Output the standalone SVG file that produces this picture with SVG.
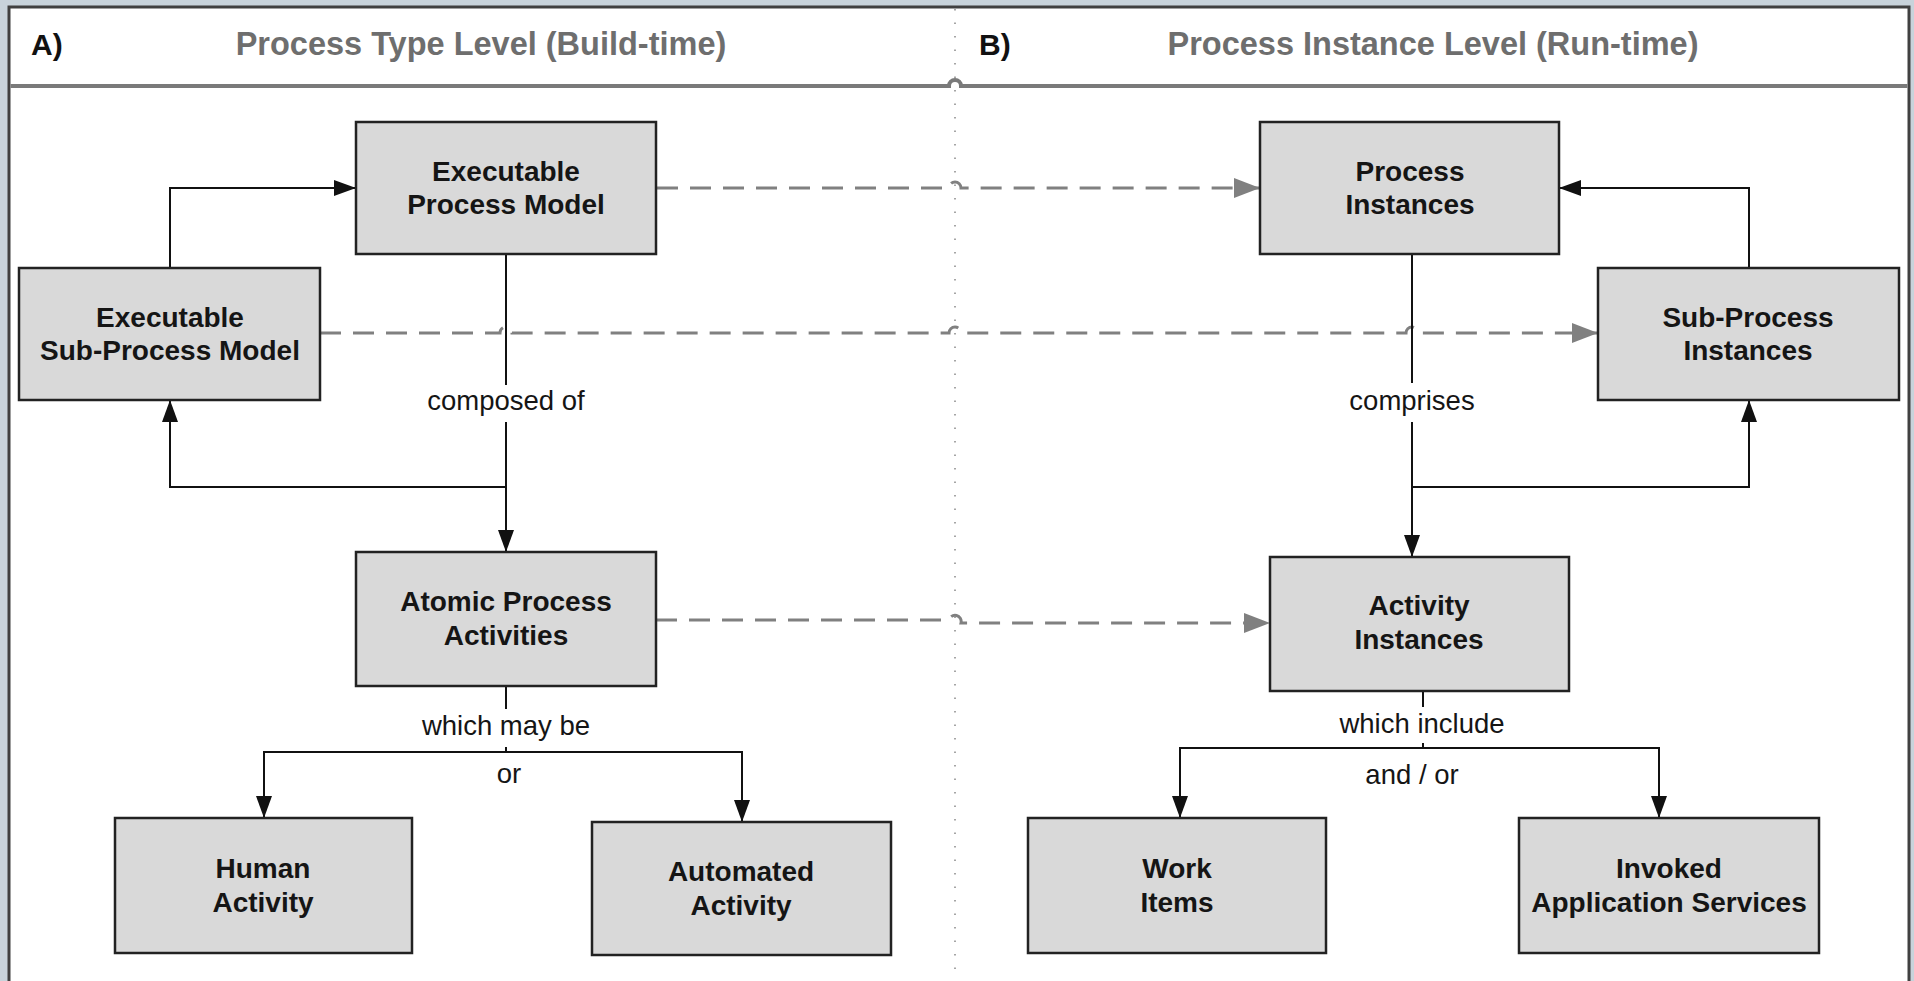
<svg xmlns="http://www.w3.org/2000/svg" width="1914" height="981" viewBox="0 0 1914 981">
<defs>
<style>
.box{fill:#d9d9d9;stroke:#222;stroke-width:2.5}
.bt{font-family:"Liberation Sans",Arial,sans-serif;font-weight:bold;font-size:28px;fill:#151515;text-anchor:middle}
.lbl{font-family:"Liberation Sans",Arial,sans-serif;font-size:27.5px;fill:#151515;text-anchor:middle}
.hdr{font-family:"Liberation Sans",Arial,sans-serif;font-weight:bold;font-size:32.5px;fill:#6e6e6e;text-anchor:middle}
.hl{font-family:"Liberation Sans",Arial,sans-serif;font-weight:bold;font-size:30px;fill:#111}
.solid{fill:none;stroke:#111;stroke-width:2}
.dash{fill:none;stroke:#808080;stroke-width:3;stroke-dasharray:21 12}
</style>
<marker id="ab" markerUnits="userSpaceOnUse" markerWidth="24" markerHeight="16" refX="22" refY="8" orient="auto">
<path d="M0,0 L22,8 L0,16 z" fill="#111"/>
</marker>
<marker id="ag" markerUnits="userSpaceOnUse" markerWidth="28" markerHeight="22" refX="26" refY="10" orient="auto">
<path d="M0,0 L26,10 L0,20 z" fill="#808080"/>
</marker>
</defs>
<rect x="0" y="0" width="1914" height="981" fill="#c8d3db"/>
<rect x="9" y="7" width="1900" height="1000" fill="#fff" stroke="#404040" stroke-width="3"/>
<g id="header">
<path d="M10.5,86 H949 A6,6 0 0 1 961,86 H1907.5" fill="none" stroke="#7a7a7a" stroke-width="4"/>
<line x1="955" y1="9" x2="955" y2="981" stroke="#888" stroke-width="1.5" stroke-dasharray="1.5 12"/>
<text class="hl" x="31" y="55">A)</text>
<text class="hdr" x="481" y="55">Process Type Level (Build-time)</text>
<text class="hl" x="979" y="55">B)</text>
<text class="hdr" x="1433" y="55">Process Instance Level (Run-time)</text>
</g>
<g id="connectors">
<path class="dash" d="M657,188 H949 A6,6 0 0 1 961,188 H1260" marker-end="url(#ag)"/>
<path class="dash" d="M320,333 H500 A6,6 0 0 1 512,333 H949 A6,6 0 0 1 961,333 H1406 A6,6 0 0 1 1418,333 H1598" marker-end="url(#ag)"/>
<path class="dash" d="M656,620 H949 A6,6 0 0 1 961,623 H1270" marker-end="url(#ag)"/>
<path class="solid" d="M170,268 V188 H356" marker-end="url(#ab)"/>
<path class="solid" d="M506,254 V385"/>
<path class="solid" d="M506,422 V552" marker-end="url(#ab)"/>
<path class="solid" d="M506,487 H170 V400" marker-end="url(#ab)"/>
<path class="solid" d="M506,686 V709"/>
<path class="solid" d="M506,747 V752"/>
<path class="solid" d="M506,752 H264 V818" marker-end="url(#ab)"/>
<path class="solid" d="M506,752 H742 V822" marker-end="url(#ab)"/>
<path class="solid" d="M1749,268 V188 H1559" marker-end="url(#ab)"/>
<path class="solid" d="M1412,254 V383"/>
<path class="solid" d="M1412,422 V557" marker-end="url(#ab)"/>
<path class="solid" d="M1412,487 H1749 V400" marker-end="url(#ab)"/>
<path class="solid" d="M1423,682 V707"/>
<path class="solid" d="M1423,743 V748"/>
<path class="solid" d="M1423,748 H1180 V818" marker-end="url(#ab)"/>
<path class="solid" d="M1423,748 H1659 V818" marker-end="url(#ab)"/>
<text class="lbl" x="506" y="410">composed of</text>
<text class="lbl" x="1412" y="410">comprises</text>
<text class="lbl" x="506" y="735">which may be</text>
<text class="lbl" x="509" y="783">or</text>
<text class="lbl" x="1422" y="733">which include</text>
<text class="lbl" x="1412" y="784">and / or</text>
</g>
<g id="exec-process-model">
<rect class="box" x="356" y="122" width="300" height="132"/>
<text class="bt" x="506" y="181">Executable</text>
<text class="bt" x="506" y="214">Process Model</text>
</g>
<g id="exec-subprocess-model">
<rect class="box" x="19" y="268" width="301" height="132"/>
<text class="bt" x="170" y="327">Executable</text>
<text class="bt" x="170" y="360">Sub-Process Model</text>
</g>
<g id="atomic-activities">
<rect class="box" x="356" y="552" width="300" height="134"/>
<text class="bt" x="506" y="611">Atomic Process</text>
<text class="bt" x="506" y="645">Activities</text>
</g>
<g id="human-activity">
<rect class="box" x="115" y="818" width="297" height="135"/>
<text class="bt" x="263" y="878">Human</text>
<text class="bt" x="263" y="912">Activity</text>
</g>
<g id="automated-activity">
<rect class="box" x="592" y="822" width="299" height="133"/>
<text class="bt" x="741" y="881">Automated</text>
<text class="bt" x="741" y="915">Activity</text>
</g>
<g id="process-instances">
<rect class="box" x="1260" y="122" width="299" height="132"/>
<text class="bt" x="1410" y="181">Process</text>
<text class="bt" x="1410" y="214">Instances</text>
</g>
<g id="subprocess-instances">
<rect class="box" x="1598" y="268" width="301" height="132"/>
<text class="bt" x="1748" y="327">Sub-Process</text>
<text class="bt" x="1748" y="360">Instances</text>
</g>
<g id="activity-instances">
<rect class="box" x="1270" y="557" width="299" height="134"/>
<text class="bt" x="1419" y="615">Activity</text>
<text class="bt" x="1419" y="649">Instances</text>
</g>
<g id="work-items">
<rect class="box" x="1028" y="818" width="298" height="135"/>
<text class="bt" x="1177" y="878">Work</text>
<text class="bt" x="1177" y="912">Items</text>
</g>
<g id="invoked-services">
<rect class="box" x="1519" y="818" width="300" height="135"/>
<text class="bt" x="1669" y="878">Invoked</text>
<text class="bt" x="1669" y="912">Application Services</text>
</g>
</svg>
